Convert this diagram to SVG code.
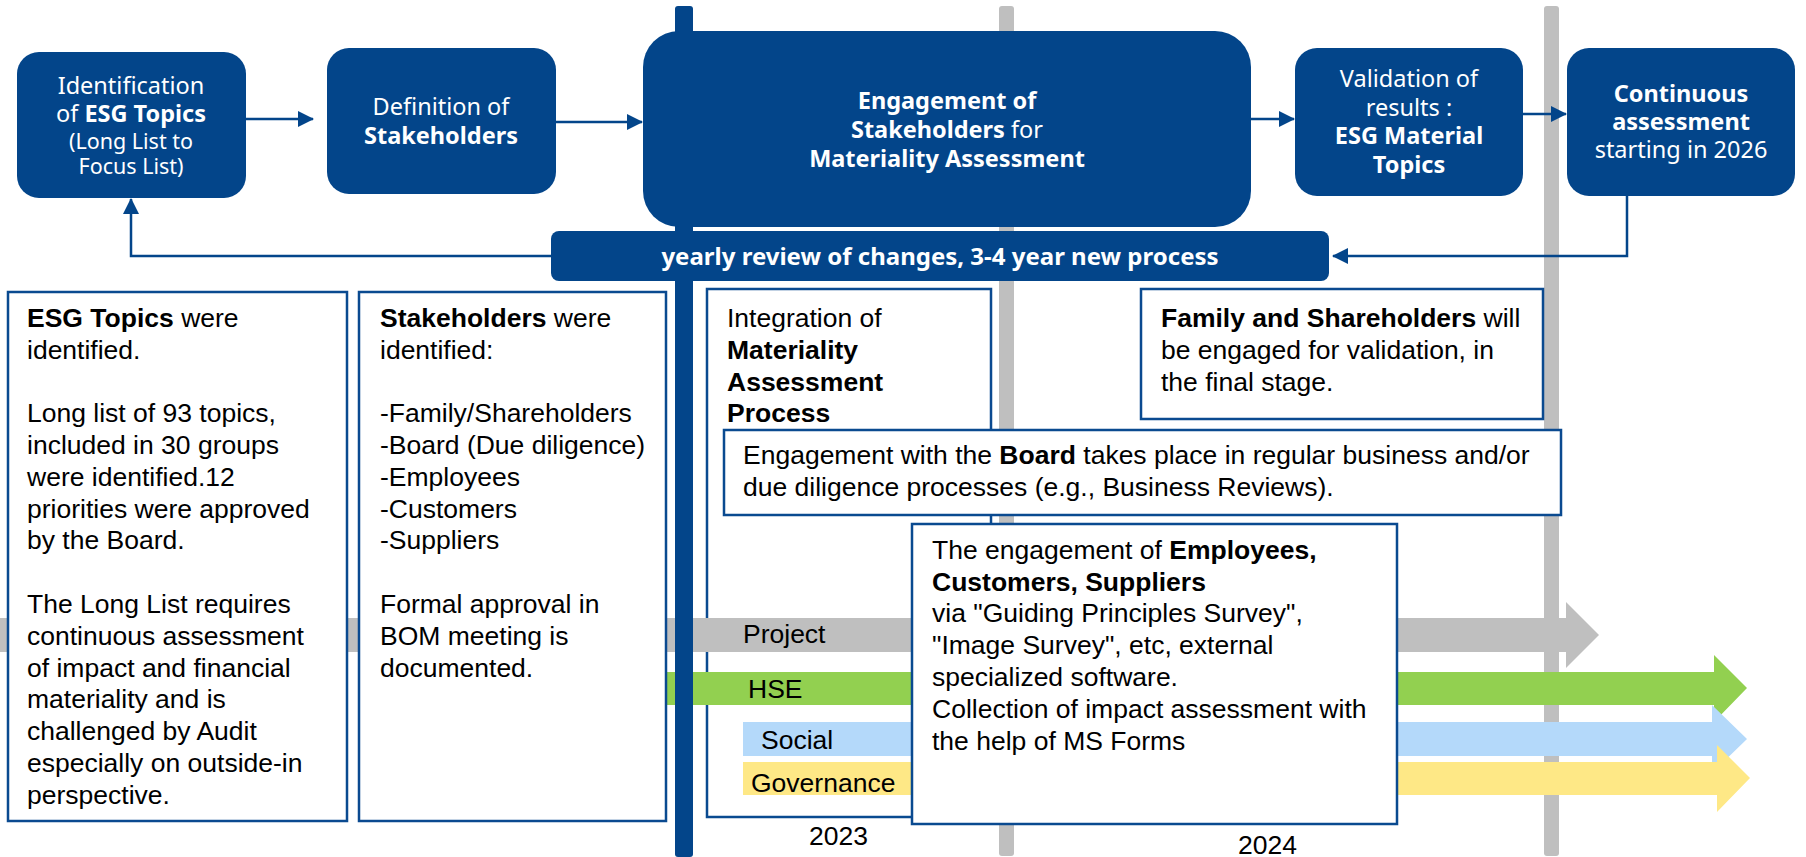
<svg xmlns="http://www.w3.org/2000/svg" width="1806" height="857" viewBox="0 0 1806 857">
<defs>
<style>
.nb{fill:#03458A}
.tb{fill:#fff;stroke:#0A4A90;stroke-width:2.5}
.wt{font-family:"Noto Sans","Open Sans",sans-serif;font-size:23.5px;fill:#fff;text-anchor:middle}
.sm{font-size:21.5px}
.b{font-weight:bold}
.bt{font-family:"Liberation Sans",Arial,sans-serif;font-size:26.5px;fill:#000}
.conn{fill:none;stroke:#03458A;stroke-width:2.5}
.gl{fill:#BFBFBF}
</style>
<marker id="ah" markerUnits="userSpaceOnUse" markerWidth="16" markerHeight="16" refX="15" refY="8" orient="auto"><path d="M0,0 L16,8 L0,16 Z" fill="#03458A"/></marker>
</defs>
<rect width="1806" height="857" fill="#fff"/>

<g id="timeline-grey-lines">
<rect class="gl" x="999" y="6" width="15" height="850" rx="3"/>
<rect class="gl" x="1544" y="6" width="15" height="850" rx="3"/>
</g>

<g id="integration-box">
<rect class="tb" x="707" y="289" width="284" height="528"/>
<text class="bt" x="727" y="327">Integration of</text>
<text class="bt b" x="727" y="359">Materiality</text>
<text class="bt b" x="727" y="391">Assessment</text>
<text class="bt b" x="727" y="422">Process</text>
</g>

<g id="tracks">
<g id="track-project">
<polygon fill="#BFBFBF" points="0,618 1566,618 1566,602 1599,635 1566,668 1566,652 0,652"/>
<text class="bt" x="743" y="643">Project</text>
</g>
<g id="track-hse">
<polygon fill="#92D050" points="667,672 1714,672 1714,655 1747,688 1714,722 1714,705 667,705"/>
<text class="bt" x="748" y="698">HSE</text>
</g>
<g id="track-social">
<polygon fill="#B4D9FA" points="743,722 1712,722 1712,705 1747,739 1712,773 1712,756 743,756"/>
<text class="bt" x="761" y="749">Social</text>
</g>
<g id="track-governance">
<polygon fill="#FEE886" points="743,762 1717,762 1717,745 1750,778 1717,812 1717,795 743,795"/>
<text class="bt" x="751" y="792">Governance</text>
</g>
</g>

<g id="blue-line">
<rect fill="#03458A" x="675" y="6" width="18" height="851" rx="3"/>
</g>

<g id="esg-topics-box">
<rect class="tb" x="8" y="292" width="339" height="529"/>
<text class="bt"><tspan x="27" y="327"><tspan class="b">ESG Topics</tspan> were</tspan><tspan x="27" y="359">identified.</tspan><tspan x="27" y="422">Long list of 93 topics,</tspan><tspan x="27" y="454">included in 30 groups</tspan><tspan x="27" y="486">were identified.12</tspan><tspan x="27" y="518">priorities were approved</tspan><tspan x="27" y="549">by the Board.</tspan><tspan x="27" y="613">The Long List requires</tspan><tspan x="27" y="645">continuous assessment</tspan><tspan x="27" y="677">of impact and financial</tspan><tspan x="27" y="708">materiality and is</tspan><tspan x="27" y="740">challenged by Audit</tspan><tspan x="27" y="772">especially on outside-in</tspan><tspan x="27" y="804">perspective.</tspan></text>
</g>

<g id="stakeholders-box">
<rect class="tb" x="359" y="292" width="307" height="529"/>
<text class="bt"><tspan x="380" y="327"><tspan class="b">Stakeholders</tspan> were</tspan><tspan x="380" y="359">identified:</tspan><tspan x="380" y="422">-Family/Shareholders</tspan><tspan x="380" y="454">-Board (Due diligence)</tspan><tspan x="380" y="486">-Employees</tspan><tspan x="380" y="518">-Customers</tspan><tspan x="380" y="549">-Suppliers</tspan><tspan x="380" y="613">Formal approval in</tspan><tspan x="380" y="645">BOM meeting is</tspan><tspan x="380" y="677">documented.</tspan></text>
</g>

<g id="family-box">
<rect class="tb" x="1141" y="289" width="402" height="130"/>
<text class="bt"><tspan x="1161" y="327"><tspan class="b">Family and Shareholders</tspan> will</tspan><tspan x="1161" y="359">be engaged for validation, in</tspan><tspan x="1161" y="391">the final stage.</tspan></text>
</g>

<g id="board-box">
<rect class="tb" x="724" y="430" width="837" height="85"/>
<text class="bt"><tspan x="743" y="464">Engagement with the <tspan class="b">Board</tspan> takes place in regular business and/or</tspan><tspan x="743" y="496">due diligence processes (e.g., Business Reviews).</tspan></text>
</g>

<g id="employees-box">
<rect class="tb" x="912" y="524" width="485" height="300"/>
<text class="bt"><tspan x="932" y="559">The engagement of <tspan class="b">Employees,</tspan></tspan><tspan x="932" y="591" class="b">Customers, Suppliers</tspan><tspan x="932" y="622">via "Guiding Principles Survey",</tspan><tspan x="932" y="654">"Image Survey", etc, external</tspan><tspan x="932" y="686">specialized software.</tspan><tspan x="932" y="718">Collection of impact assessment with</tspan><tspan x="932" y="750">the help of MS Forms</tspan></text>
</g>

<g id="years">
<text class="bt" x="809" y="845" font-size="24">2023</text>
<text class="bt" x="1238" y="854" font-size="24">2024</text>
</g>

<g id="connectors">
<path class="conn" d="M246,119 H313" marker-end="url(#ah)"/>
<path class="conn" d="M556,122 H642" marker-end="url(#ah)"/>
<path class="conn" d="M1251,119 H1294" marker-end="url(#ah)"/>
<path class="conn" d="M1523,114 H1566" marker-end="url(#ah)"/>
<path class="conn" d="M1627,196 V256 H1333" marker-end="url(#ah)"/>
<path class="conn" d="M551,256 H131 V199" marker-end="url(#ah)"/>
</g>

<g id="node-esg-topics">
<rect class="nb" x="17" y="52" width="229" height="146" rx="22"/>
<text class="wt"><tspan x="131" y="94">Identification</tspan><tspan x="131" y="122">of <tspan class="b">ESG Topics</tspan></tspan><tspan x="131" y="149" class="sm">(Long List to</tspan><tspan x="131" y="174" class="sm">Focus List)</tspan></text>
</g>

<g id="node-stakeholders">
<rect class="nb" x="327" y="48" width="229" height="146" rx="22"/>
<text class="wt"><tspan x="441" y="115">Definition of</tspan><tspan x="441" y="144" class="b">Stakeholders</tspan></text>
</g>

<g id="node-engagement">
<rect class="nb" x="643" y="31" width="608" height="196" rx="36"/>
<text class="wt"><tspan x="947" y="109" class="b">Engagement of</tspan><tspan x="947" y="138"><tspan class="b">Stakeholders</tspan> for</tspan><tspan x="947" y="167" class="b">Materiality Assessment</tspan></text>
</g>

<g id="node-review">
<rect class="nb" x="551" y="231" width="778" height="50" rx="8"/>
<text class="wt b" x="940" y="265" style="font-size:24px">yearly review of changes, 3-4 year new process</text>
</g>

<g id="node-validation">
<rect class="nb" x="1295" y="48" width="228" height="148" rx="22"/>
<text class="wt"><tspan x="1409" y="87">Validation of</tspan><tspan x="1409" y="116">results :</tspan><tspan x="1409" y="144" class="b">ESG Material</tspan><tspan x="1409" y="173" class="b">Topics</tspan></text>
</g>

<g id="node-continuous">
<rect class="nb" x="1567" y="48" width="228" height="148" rx="22"/>
<text class="wt"><tspan x="1681" y="102" class="b">Continuous</tspan><tspan x="1681" y="130" class="b">assessment</tspan><tspan x="1681" y="158">starting in 2026</tspan></text>
</g>
</svg>
